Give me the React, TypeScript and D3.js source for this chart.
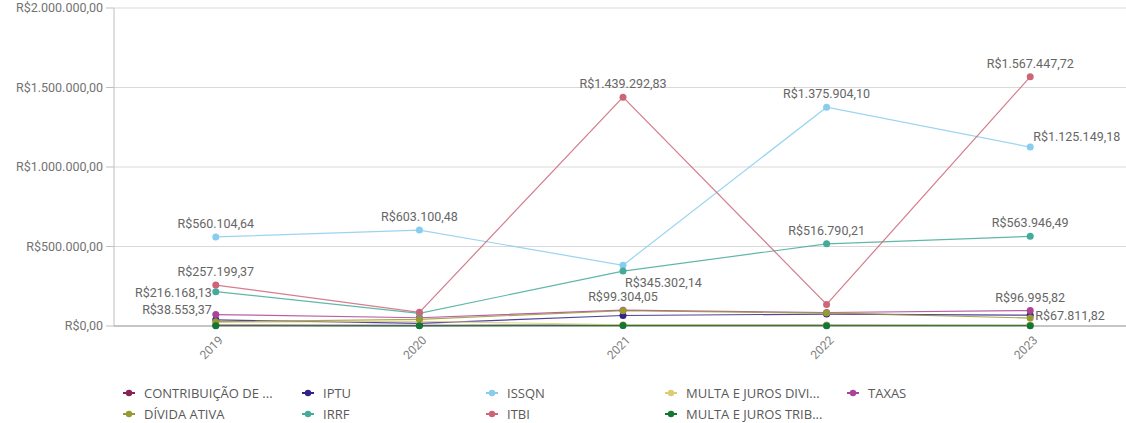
import React from 'react';
import * as d3 from 'd3';

const years = ['2019', '2020', '2021', '2022', '2023'];

const contribuicao = [5200, 4800, 5500, 5000, 4600];
const iptu = [38553.37, 17000, 66000, 75000, 67811.82];
const issqn = [560104.64, 603100.48, 382000, 1375904.1, 1125149.18];
const multaDivi = [22000, 30000, 8000, 5000, 5000];
const taxas = [72000, 52000, 99304.05, 85000, 96995.82];
const dividaAtiva = [27000, 42000, 96000, 82000, 50000];
const irrf = [216168.13, 80000, 345302.14, 516790.21, 563946.49];
const itbi = [257199.37, 86000, 1439292.83, 136000, 1567447.72];
const multaTrib = [1500, 1200, 2500, 2000, 1800];

const yTicks = [0, 500000, 1000000, 1500000, 2000000];

const series = [
  { key: 'contribuicao', name: 'CONTRIBUIÇÃO DE ...', values: contribuicao, color: '#882255' },
  { key: 'iptu', name: 'IPTU', values: iptu, color: '#332288' },
  { key: 'issqn', name: 'ISSQN', values: issqn, color: '#88ccee' },
  { key: 'multaDivi', name: 'MULTA E JUROS DIVI...', values: multaDivi, color: '#ddcc77' },
  { key: 'taxas', name: 'TAXAS', values: taxas, color: '#aa4499' },
  { key: 'dividaAtiva', name: 'DÍVIDA ATIVA', values: dividaAtiva, color: '#999933' },
  { key: 'irrf', name: 'IRRF', values: irrf, color: '#44aa99' },
  { key: 'itbi', name: 'ITBI', values: itbi, color: '#cc6677' },
  { key: 'multaTrib', name: 'MULTA E JUROS TRIB...', values: multaTrib, color: '#117733' },
];

// which points get a value label, and where it sits relative to the dot
const labels = [
  { key: 'issqn', i: 0, pos: 'top' },
  { key: 'issqn', i: 1, pos: 'top' },
  { key: 'issqn', i: 3, pos: 'top' },
  { key: 'issqn', i: 4, pos: 'right' },
  { key: 'itbi', i: 0, pos: 'top' },
  { key: 'itbi', i: 2, pos: 'top' },
  { key: 'itbi', i: 4, pos: 'top' },
  { key: 'irrf', i: 0, pos: 'left' },
  { key: 'irrf', i: 2, pos: 'below' },
  { key: 'irrf', i: 3, pos: 'top' },
  { key: 'irrf', i: 4, pos: 'top' },
  { key: 'iptu', i: 0, pos: 'leftUp' },
  { key: 'taxas', i: 2, pos: 'top' },
  { key: 'taxas', i: 4, pos: 'top' },
  { key: 'iptu', i: 4, pos: 'rightDown' },
];

// legend layout: column order
const legendCols = [
  ['contribuicao', 'dividaAtiva'],
  ['iptu', 'irrf'],
  ['issqn', 'itbi'],
  ['multaDivi', 'multaTrib'],
  ['taxas'],
];
const legendX = [129, 308, 492, 671, 853];

const fmt = (v: number) => {
  const [int, dec] = v.toFixed(2).split('.');
  return 'R$' + int.replace(/\B(?=(\d{3})+(?!\d))/g, '.') + ',' + dec;
};

const App = () => {
  const width = 1126;
  const height = 423;
  const left = 114;
  const top = 8;
  const bottom = 326;

  const x = d3.scaleBand().domain(years).range([left, 1132]);
  const y = d3.scaleLinear().domain([0, 2000000]).range([bottom, top]);
  const cx = (yr: string) => (x(yr) as number) + x.bandwidth() / 2;

  const line = d3
    .line<number>()
    .x((d, i) => cx(years[i]))
    .y((d) => y(d));

  const font = 'Roboto, "Noto Sans", sans-serif';

  return (
    <svg
      width={width}
      height={height}
      style={{ position: 'absolute', left: 0, top: 0, background: '#fff' }}
    >
      {/* grid + y axis */}
      {yTicks.map((t) => (
        <g key={t}>
          {t > 0 && (
            <line x1={left} x2={width} y1={y(t)} y2={y(t)} stroke="#d9d9d9" strokeWidth={1} />
          )}
          <line x1={left - 8} x2={left} y1={y(t)} y2={y(t)} stroke="#bfbfbf" />
          <text
            x={left - 11}
            y={y(t)}
            dy="0.35em"
            textAnchor="end"
            fontFamily={font}
            fontSize={12.5}
            fill="#737373"
          >
            {fmt(t)}
          </text>
        </g>
      ))}
      <line x1={left} x2={left} y1={top} y2={bottom} stroke="#bfbfbf" />
      <line x1={left} x2={width} y1={bottom} y2={bottom} stroke="#8c8c8c" />

      {/* x labels */}
      {years.map((yr) => (
        <text
          key={yr}
          transform={`translate(${cx(yr) + 5},${bottom + 12}) rotate(-45)`}
          textAnchor="end"
          dy="0.35em"
          fontFamily={font}
          fontSize={12}
          fill="#808080"
        >
          {yr}
        </text>
      ))}

      {/* lines */}
      {series.map((s) => (
        <path
          key={s.key}
          d={line(s.values) || ''}
          fill="none"
          stroke={s.color}
          strokeWidth={1.2}
          strokeOpacity={0.85}
        />
      ))}
      {series.map((s) => (
        <g key={s.key + 'dots'}>
          {s.values.map((v, i) => (
            <circle key={i} cx={cx(years[i])} cy={y(v)} r={3.5} fill={s.color} />
          ))}
        </g>
      ))}

      {/* value labels */}
      {labels.map((l) => {
        const s = series.find((d) => d.key === l.key)!;
        const v = s.values[l.i];
        const px = cx(years[l.i]);
        const py = y(v);
        let tx = px;
        let ty = py - 9;
        let anchor = 'middle';
        if (l.pos === 'right') {
          tx = px + 3;
          ty = py - 6;
          anchor = 'start';
        } else if (l.pos === 'rightDown') {
          tx = px + 5;
          ty = py + 5;
          anchor = 'start';
        } else if (l.pos === 'left') {
          tx = px - 4;
          ty = py + 5;
          anchor = 'end';
        } else if (l.pos === 'leftUp') {
          tx = px - 4;
          ty = py - 6;
          anchor = 'end';
        } else if (l.pos === 'below') {
          tx = px + 2;
          ty = py + 16;
          anchor = 'start';
        }
        return (
          <text
            key={l.key + l.i}
            x={tx}
            y={ty}
            textAnchor={anchor}
            fontFamily={font}
            fontSize={12.5}
            fill="#666666"
          >
            {fmt(v)}
          </text>
        );
      })}

      {/* legend */}
      {legendCols.map((col, ci) =>
        col.map((k, ri) => {
          const s = series.find((d) => d.key === k)!;
          const lx = legendX[ci];
          const ly = 393 + ri * 21;
          return (
            <g key={k}>
              <line x1={lx - 6} x2={lx + 6} y1={ly} y2={ly} stroke={s.color} strokeWidth={2} />
              <circle cx={lx} cy={ly} r={3.2} fill={s.color} />
              <text
                x={lx + 15}
                y={ly}
                dy="0.35em"
                fontFamily='"Open Sans", sans-serif'
                fontSize={13}
                fill="#595959"
              >
                {s.name}
              </text>
            </g>
          );
        })
      )}
    </svg>
  );
};

export default App;
